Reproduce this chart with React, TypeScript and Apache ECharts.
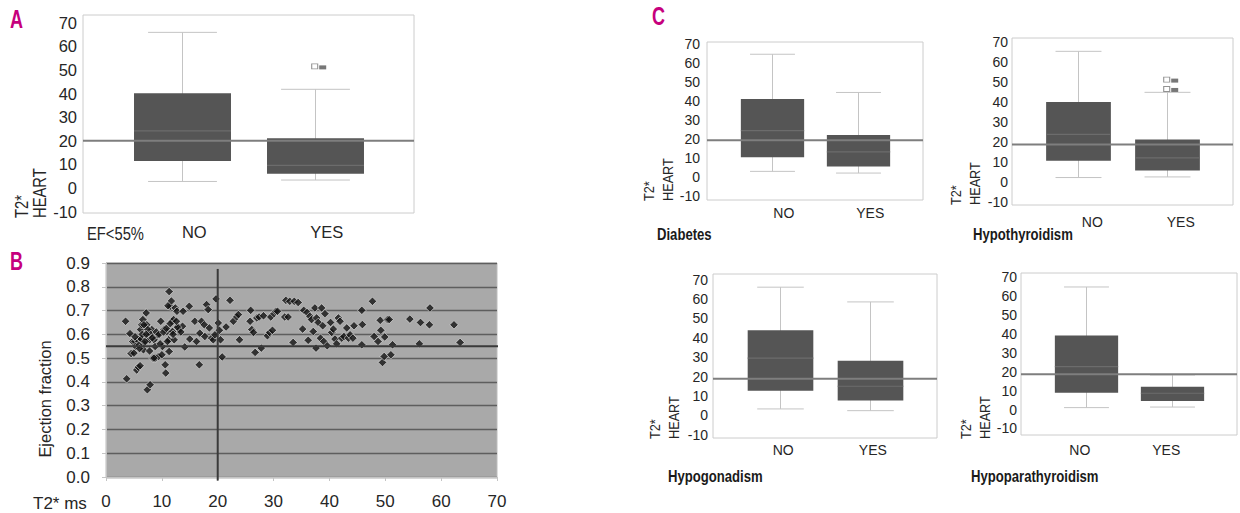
import React, { useEffect, useRef } from 'react';
import * as echarts from 'echarts';

// ---------- DATA ----------
const boxCategories = ['NO', 'YES'];
const boxYTicks = [-10, 0, 10, 20, 30, 40, 50, 60, 70];

// [whisker low, Q1, median, Q3, whisker high] for NO and YES
const efBoxNo = [2.8, 11.5, 24.2, 40.1, 65.9];
const efBoxYes = [3.4, 6.1, 9.6, 21.1, 41.8];
const efOutliersYes = [51.5];
const efRef = 20;

const diabetesNo = [2.8, 10.2, 24.2, 40.8, 64.4];
const diabetesYes = [1.9, 5.3, 13, 21.9, 44.3];
const diabetesRef = 19.1;

const hypothyNo = [2.1, 10.5, 23.8, 40.0, 65.5];
const hypothyYes = [2.4, 5.6, 12, 21.2, 44.9];
const hypothyOutliersYes = [51.3, 46.6];
const hypothyRef = 18.7;

const hypogonNo = [3.3, 12.7, 29.5, 43.9, 66.1];
const hypogonYes = [2.4, 7.6, 15, 28.2, 58.5];
const hypogonRef = 18.9;

const hypoparaNo = [1.0, 8.9, 22.7, 39.2, 64.9];
const hypoparaYes = [1.3, 4.5, 8.6, 12.1, 18.3];
const hypoparaRef = 18.7;

const scatterXTicks = [0, 10, 20, 30, 40, 50, 60, 70];
const efThreshold = 0.55;
const t2Threshold = 20;
// [T2* ms, ejection fraction]
const scatterPoints = [
  [3.5, 0.655], [3.7, 0.413], [4.3, 0.603], [4.5, 0.519], [4.8, 0.57], [5.2, 0.57],
  [5.0, 0.521], [5.5, 0.45], [5.8, 0.462], [6.1, 0.468], [5.6, 0.577], [6.1, 0.584],
  [6.2, 0.62], [6.4, 0.64], [6.6, 0.662], [6.7, 0.535], [6.8, 0.563], [7.2, 0.69],
  [7.3, 0.64], [7.4, 0.367], [7.9, 0.388], [7.6, 0.598], [7.8, 0.577], [8.2, 0.62],
  [8.4, 0.5], [8.6, 0.577], [8.8, 0.549], [8.9, 0.5], [9.2, 0.598], [9.4, 0.507],
  [9.8, 0.655], [10.0, 0.514], [10.1, 0.549], [10.4, 0.62], [10.6, 0.472], [10.7, 0.437],
  [10.9, 0.612], [11.2, 0.577], [11.3, 0.528], [11.3, 0.78], [11.5, 0.718], [11.7, 0.74],
  [11.8, 0.655], [11.9, 0.612], [12.1, 0.662], [12.2, 0.577], [12.4, 0.711], [12.7, 0.697],
  [13.0, 0.631], [13.2, 0.62], [13.7, 0.634], [13.8, 0.697], [14.1, 0.547], [14.9, 0.718],
  [15.0, 0.58], [15.9, 0.655], [16.2, 0.57], [16.7, 0.472], [16.8, 0.605], [17.1, 0.655],
  [17.6, 0.64], [17.7, 0.591], [18.0, 0.725], [18.3, 0.704], [18.5, 0.627], [18.9, 0.584],
  [19.2, 0.577], [19.5, 0.598], [19.7, 0.749], [20.1, 0.648], [20.3, 0.617], [20.5, 0.577],
  [20.8, 0.505], [21.5, 0.631], [22.2, 0.743], [22.8, 0.655], [23.4, 0.673], [23.7, 0.683],
  [23.9, 0.577], [25.8, 0.655], [25.9, 0.701], [26.1, 0.62], [26.4, 0.608], [26.7, 0.524],
  [27.0, 0.669], [27.4, 0.673], [27.8, 0.542], [28.2, 0.678], [28.9, 0.594], [29.3, 0.608],
  [29.5, 0.673], [29.8, 0.617], [30.1, 0.687], [30.4, 0.697], [30.7, 0.697], [32.0, 0.673],
  [32.2, 0.743], [32.6, 0.673], [32.9, 0.739], [33.5, 0.566], [33.7, 0.739], [34.4, 0.734],
  [35.2, 0.622], [35.4, 0.701], [36.0, 0.692], [36.2, 0.575], [36.5, 0.676], [36.8, 0.662],
  [37.1, 0.612], [37.4, 0.711], [37.6, 0.542], [37.7, 0.669], [38.0, 0.65], [38.4, 0.584],
  [38.6, 0.711], [38.8, 0.636], [39.0, 0.57], [39.2, 0.687], [39.6, 0.552], [40.2, 0.65],
  [40.4, 0.608], [40.7, 0.622], [41.0, 0.58], [41.3, 0.56], [41.6, 0.669], [41.9, 0.655],
  [42.2, 0.584], [42.6, 0.591], [43.1, 0.627], [43.4, 0.584], [43.7, 0.598], [44.2, 0.584],
  [44.4, 0.636], [45.8, 0.701], [45.8, 0.556], [45.9, 0.641], [47.7, 0.739], [48.0, 0.591],
  [48.7, 0.57], [49.1, 0.659], [49.2, 0.617], [49.5, 0.482], [49.8, 0.507], [49.9, 0.589],
  [50.4, 0.662], [50.7, 0.662], [51.0, 0.514], [51.3, 0.556], [54.4, 0.664], [56.1, 0.56],
  [56.3, 0.65], [57.9, 0.64], [58.0, 0.711], [62.3, 0.64], [63.4, 0.566],
  [5.3, 0.55], [5.9, 0.555], [6.3, 0.58], [6.5, 0.6], [7.0, 0.57], [7.5, 0.62],
  [8.0, 0.6], [8.3, 0.585], [9.0, 0.61], [9.5, 0.6], [10.3, 0.61], [10.8, 0.625],
  [11.5, 0.645], [12.0, 0.6], [12.8, 0.63], [13.4, 0.61], [7.8, 0.53], [8.6, 0.5],
  [6.8, 0.64], [9.7, 0.56], [11.0, 0.57], [5.2, 0.59], [12.6, 0.655], [11.1, 0.72],
  [6.0, 0.54], [7.2, 0.6],
];

// ---------- STYLE ----------
const SANS = "'Liberation Sans', Arial, Helvetica, sans-serif";
const TEXT = '#262626';
const MAGENTA = '#c6007d';
const BOX_FILL = '#555555';
const MEDIAN = '#6c6c6c';
const WHISKER = '#c4c4c4';
const REFLINE = '#7e7e7e';
const FRAME = '#cccccc';
const BOX_W = 2.93;
const CAP_W = 2.08;
const NARROW_SCALE = 0.82;
const catX = (k: number) => 3 + 4 * k;

type Panel = {
  no: number[]; yes: number[]; ref: number; outliers?: number[];
  grid: any; yMin: number; yMax: number; fontSize: number; yMargin: number; xMargin: number; labelShift: number;
};

const panels: Panel[] = [
  { no: efBoxNo, yes: efBoxYes, ref: efRef, outliers: efOutliersYes,
    grid: { left: 83, right: 826, top: 15, bottom: 300 }, yMin: -10.55, yMax: 73.25, fontSize: 16.5, yMargin: 6, xMargin: 10, labelShift: 12 },
  { no: diabetesNo, yes: diabetesYes, ref: diabetesRef,
    grid: { left: 707, right: 317, top: 42, bottom: 313 }, yMin: -12.26, yMax: 70.84, fontSize: 14, yMargin: 7, xMargin: 6, labelShift: 12 },
  { no: hypothyNo, yes: hypothyYes, ref: hypothyRef, outliers: hypothyOutliersYes,
    grid: { left: 1012, right: 7, top: 38, bottom: 308 }, yMin: -11.7, yMax: 72.2, fontSize: 14, yMargin: 4, xMargin: 10, labelShift: 14 },
  { no: hypogonNo, yes: hypogonYes, ref: hypogonRef,
    grid: { left: 713, right: 303, top: 274, bottom: 75 }, yMin: -11.7, yMax: 72.9, fontSize: 14, yMargin: 5, xMargin: 5, labelShift: 3 },
  { no: hypoparaNo, yes: hypoparaYes, ref: hypoparaRef,
    grid: { left: 1021, right: 0, top: 273, bottom: 78 }, yMin: -13.5, yMax: 72.3, fontSize: 14, yMargin: 4, xMargin: 8, labelShift: -6 },
];

function boxRender(params: any, api: any) {
  const x = api.value(0);
  const lo = api.coord([x, api.value(1)]);
  const q1 = api.coord([x, api.value(2)]);
  const md = api.coord([x, api.value(3)]);
  const q3 = api.coord([x, api.value(4)]);
  const hi = api.coord([x, api.value(5)]);
  const half = api.size([BOX_W, 0])[0] / 2;
  const cap = api.size([CAP_W, 0])[0] / 2;
  const cx = Math.round(lo[0]) + 0.5;
  return {
    type: 'group',
    children: [
      { type: 'line', shape: { x1: cx, y1: lo[1], x2: cx, y2: hi[1] }, style: { stroke: WHISKER, lineWidth: 1 } },
      { type: 'line', shape: { x1: cx - cap, y1: lo[1], x2: cx + cap, y2: lo[1] }, style: { stroke: WHISKER, lineWidth: 1 } },
      { type: 'line', shape: { x1: cx - cap, y1: hi[1], x2: cx + cap, y2: hi[1] }, style: { stroke: WHISKER, lineWidth: 1 } },
      { type: 'rect', shape: { x: cx - half, y: q3[1], width: half * 2, height: q1[1] - q3[1] }, style: { fill: BOX_FILL } },
      { type: 'line', shape: { x1: cx - half, y1: md[1], x2: cx + half, y2: md[1] }, style: { stroke: MEDIAN, lineWidth: 1.2 } },
    ],
  };
}

function buildOption() {
  const grid: any[] = [];
  const xAxis: any[] = [];
  const yAxis: any[] = [];
  const series: any[] = [];

  panels.forEach((p, i) => {
    grid.push({ ...p.grid, show: true, borderColor: FRAME, borderWidth: 1, backgroundColor: 'transparent', containLabel: false });
    const s = p.labelShift;
    xAxis.push({
      type: 'value', gridIndex: i, min: 0, max: 10, interval: 1,
      axisLine: { show: false }, axisTick: { show: false }, splitLine: { show: false },
      axisLabel: {
        fontFamily: SANS, fontSize: p.fontSize, color: TEXT, margin: p.xMargin,
        padding: s >= 0 ? [0, 0, 0, 2 * s] : [0, -2 * s, 0, 0],
        formatter: (v: number) => {
          const k = (v - 3) / 4;
          return Number.isInteger(k) && boxCategories[k] ? boxCategories[k] : '';
        },
      },
    });
    yAxis.push({
      type: 'value', gridIndex: i, min: p.yMin, max: p.yMax,
      axisLine: { show: false }, axisTick: { show: false }, splitLine: { show: false },
      axisLabel: {
        customValues: boxYTicks, fontFamily: SANS, fontSize: p.fontSize, color: TEXT, margin: p.yMargin,
        formatter: (v: number) => (boxYTicks.includes(Math.round(v)) && Math.abs(v - Math.round(v)) < 1e-6 ? String(Math.round(v)) : ''),
      },
    });
    series.push({
      type: 'custom', xAxisIndex: i, yAxisIndex: i, z: 2,
      renderItem: boxRender,
      data: [p.no, p.yes].map((b, k) => [catX(k), ...b]),
    });
    series.push({
      type: 'line', xAxisIndex: i, yAxisIndex: i, z: 4, symbol: 'none', silent: true,
      lineStyle: { color: REFLINE, width: 2 },
      data: [[0, p.ref], [10, p.ref]],
    });
    if (p.outliers) {
      const od = p.outliers.map((v) => [catX(1), v]);
      series.push({
        type: 'scatter', xAxisIndex: i, yAxisIndex: i, z: 5, symbol: 'rect', symbolSize: [6, 5],
        itemStyle: { color: '#ffffff', borderColor: '#777777', borderWidth: 1 },
        data: od,
      });
      series.push({
        type: 'scatter', xAxisIndex: i, yAxisIndex: i, z: 5, symbol: 'rect', symbolSize: [7, 4], symbolOffset: [8, 1],
        itemStyle: { color: '#555555' },
        data: od,
      });
    }
  });

  // Panel B scatter
  const bi = panels.length;
  grid.push({ left: 106, right: 743, top: 263, bottom: 36, show: true, backgroundColor: '#a9a9a9', borderColor: '#bdbdbd', borderWidth: 1 });
  xAxis.push({
    type: 'value', gridIndex: bi, min: 0, max: 70, interval: 10,
    axisLine: { show: true, lineStyle: { color: '#c4c4c4' } },
    axisTick: { show: true, length: 4, lineStyle: { color: '#c4c4c4' } },
    splitLine: { show: false },
    axisLabel: {
      customValues: scatterXTicks, fontFamily: SANS, fontSize: 17, color: TEXT, margin: 16,
    },
  });
  yAxis.push({
    type: 'value', gridIndex: bi, min: 0, max: 0.9, interval: 0.1,
    axisLine: { show: true, lineStyle: { color: '#c4c4c4' } },
    axisTick: { show: true, length: 4, lineStyle: { color: '#c4c4c4' } },
    splitLine: { show: true, lineStyle: { color: '#5e5e5e', width: 1.3 } },
    axisLabel: { fontFamily: SANS, fontSize: 17, color: TEXT, margin: 16, formatter: (v: number) => v.toFixed(1) },
  });
  series.push({
    type: 'scatter', xAxisIndex: bi, yAxisIndex: bi, z: 3, symbol: 'diamond', symbolSize: 8.5,
    itemStyle: { color: '#141414', borderColor: 'rgba(225,225,225,0.8)', borderWidth: 1 },
    data: scatterPoints,
  });
  series.push({
    type: 'line', xAxisIndex: bi, yAxisIndex: bi, z: 4, symbol: 'none', silent: true, clip: false,
    lineStyle: { color: '#3a3a3a', width: 2 },
    data: [[0, efThreshold], [72, efThreshold]],
  });
  series.push({
    type: 'line', xAxisIndex: bi, yAxisIndex: bi, z: 4, symbol: 'none', silent: true, clip: false,
    lineStyle: { color: '#3a3a3a', width: 2 },
    data: [[t2Threshold, 0.875], [t2Threshold, -0.015]],
  });

  const txt = (text: string, x: number, y: number, opts: any = {}) => ({
    type: 'text', x, y, rotation: opts.rotation || 0, scaleX: opts.scaleX ?? NARROW_SCALE, silent: true,
    style: {
      text,
      fill: opts.fill || TEXT,
      fontSize: opts.fontSize || 15,
      fontFamily: SANS,
      fontWeight: opts.fontWeight || 'normal',
      textAlign: opts.align || 'left',
      textVerticalAlign: opts.valign || 'middle',
      lineHeight: opts.lineHeight,
    },
  });
  const rot = Math.PI / 2;
  const graphic = [
    txt('A', 10, 19, { fill: MAGENTA, fontSize: 25, fontWeight: 'bold', scaleX: 0.72 }),
    txt('B', 10, 261, { fill: MAGENTA, fontSize: 25, fontWeight: 'bold', scaleX: 0.72 }),
    txt('C', 652, 16, { fill: MAGENTA, fontSize: 25, fontWeight: 'bold', scaleX: 0.72 }),
    txt('T2*\nHEART', 12, 218, { rotation: rot, fontSize: 18, valign: 'top', lineHeight: 18 }),
    txt('EF<55%', 87, 233, { fontSize: 18 }),
    txt('Ejection fraction', 45, 399, { rotation: rot, fontSize: 17, align: 'center', scaleX: 0.97 }),
    txt('T2* ms', 33, 503, { fontSize: 17, scaleX: 1 }),
    txt('T2*\nHEART', 639, 201, { rotation: rot, fontSize: 15.5, valign: 'top', lineHeight: 19 }),
    txt('T2*\nHEART', 946, 205, { rotation: rot, fontSize: 15.5, valign: 'top', lineHeight: 19 }),
    txt('T2*\nHEART', 645, 439, { rotation: rot, fontSize: 15.5, valign: 'top', lineHeight: 19 }),
    txt('T2*\nHEART', 956, 439, { rotation: rot, fontSize: 15.5, valign: 'top', lineHeight: 19 }),
    txt('Diabetes', 657, 235, { fontSize: 16, fontWeight: 'bold', fill: '#1a1a1a' }),
    txt('Hypothyroidism', 973, 235, { fontSize: 16, fontWeight: 'bold', fill: '#1a1a1a' }),
    txt('Hypogonadism', 668, 477, { fontSize: 16, fontWeight: 'bold', fill: '#1a1a1a' }),
    txt('Hypoparathyroidism', 971, 477, { fontSize: 16, fontWeight: 'bold', fill: '#1a1a1a' }),
  ];

  return { animation: false, backgroundColor: '#ffffff', grid, xAxis, yAxis, series, graphic };
}

export default function App() {
  const ref = useRef<HTMLDivElement>(null);
  useEffect(() => {
    if (!ref.current) return;
    const chart = echarts.init(ref.current, undefined, { renderer: 'svg' });
    chart.setOption(buildOption() as any);
    return () => chart.dispose();
  }, []);
  return (
    <div
      ref={ref}
      style={{ position: 'fixed', left: 0, top: 0, width: 1240, height: 513, background: '#fff' }}
    />
  );
}
